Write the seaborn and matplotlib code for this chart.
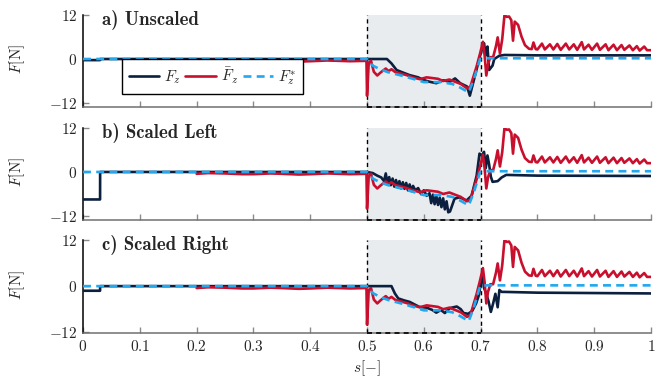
import matplotlib
matplotlib.use('Agg')
import matplotlib.pyplot as plt
import seaborn as sns

# ---- data ----
panel_titles = ['a) Unscaled', 'b) Scaled Left', 'c) Scaled Right']
legend_labels = [r'$F_z$', r'$\bar{F}_z$', r'$F_z^{*}$']
window = [0.5, 0.7]
x_ticks = [0, 0.1, 0.2, 0.3, 0.4, 0.5, 0.6, 0.7, 0.8, 0.9, 1]
x_tick_labels = ['$0$', '$0.1$', '$0.2$', '$0.3$', '$0.4$', '$0.5$', '$0.6$', '$0.7$', '$0.8$', '$0.9$', '$1$']
y_ticks = [-12, 0, 12]
y_tick_labels = ['$-12$', '$0$', '$12$']
y_limits = [(-13.1, 12), (-13.1, 12), (-12.2, 12)]

# reference force F_z^* (same in all panels)
ref_s = [0, 0.5, 0.51, 0.523, 0.537, 0.56, 0.583, 0.6, 0.63, 0.65, 0.664, 0.679,
         0.688, 0.699, 0.71, 0.72, 1.0]
ref_f = [0, 0, -1.8, -2.8, -3.6, -4.5, -5.5, -6.3, -6.3, -6.8, -7.8, -9.1,
         -5.6, 0, 0.2, 0.2, 0.2]

# mean force \bar F_z (same in all panels, starts at s = 0.2)
mean_s = [0.2, 0.22, 0.25, 0.28, 0.3, 0.33, 0.35, 0.38, 0.4, 0.43, 0.45, 0.47,
          0.499, 0.5, 0.503, 0.507, 0.512, 0.518,
          0.523, 0.527, 0.533, 0.538, 0.543, 0.55, 0.56, 0.57, 0.58, 0.593, 0.605,
          0.615, 0.625, 0.634, 0.645, 0.655, 0.665, 0.676, 0.682, 0.688, 0.693,
          0.699, 0.704, 0.707, 0.710, 0.713, 0.717, 0.722, 0.727, 0.730, 0.734,
          0.738, 0.742, 0.746, 0.750, 0.754, 0.757, 0.760, 0.766, 0.772, 0.778,
          0.785, 0.790, 0.793, 0.797, 0.800, 0.808, 0.813, 0.822, 0.828, 0.835,
          0.841, 0.850, 0.856, 0.864, 0.870, 0.878, 0.882, 0.890, 0.896, 0.905,
          0.910, 0.920, 0.925, 0.934, 0.940, 0.948, 0.953, 0.962, 0.968, 0.975,
          0.980, 0.988, 0.993, 1.0]
mean_f = [-0.5, -0.3, -0.4, -0.6, -0.6, -0.4, -0.5, -0.7, -0.6, -0.4, -0.5, -0.6,
          -0.5, -10, -1, -0.5, -3.5, -4.5,
          -3.8, -3.3, -2.6, -3.3, -2.8, -3.6, -4.0, -4.4, -5.0, -5.5, -5.0,
          -5.2, -5.4, -6.0, -5.6, -6.2, -6.8, -8.0, -7.5, -4.5, -2.0,
          1.5, 4.7, 1.0, -4.5, -1.5, 0.5, 0.5, 3.5, 5.9, 1.5,
          5.4, 12.0, 11.5, 11.6, 10.6, 5.0, 10.2, 9.3, 6.1, 3.8,
          2.8, 2.7, 4.5, 2.7, 2.6, 4.2, 2.6, 4.0, 2.6, 4.1,
          2.5, 4.2, 2.6, 4.0, 2.5, 4.6, 2.6, 3.9, 2.5, 4.2,
          2.5, 4.0, 2.4, 3.9, 2.4, 3.8, 2.5, 3.7, 2.4, 3.5,
          2.3, 3.4, 2.4, 2.4]

# measured force F_z, one per panel
fz_a_s = [0, 0.03, 0.0301, 0.5, 0.535, 0.543, 0.552, 0.56, 0.575, 0.59, 0.599,
          0.61, 0.622, 0.634, 0.646, 0.655, 0.664, 0.676, 0.681, 0.688, 0.697,
          0.703, 0.706, 0.709, 0.712, 0.715, 0.721, 0.724, 0.733, 0.742, 0.8, 1.0]
fz_a = [-0.3, -0.3, 0, 0, 0, -1.2, -3.0, -3.5, -4.4, -5.0, -5.7,
        -6.2, -6.6, -5.8, -6.2, -5.3, -6.6, -7.5, -10.0, -5.8, -0.3,
        3.0, 4.3, 1.0, 3.4, -3.0, -1.8, 0, 0.9, 1.1, 1.0, 1.0]

fz_b_s = [0, 0.03, 0.0301, 0.5, 0.51, 0.518, 0.525, 0.530, 0.533, 0.536, 0.539,
          0.542, 0.545, 0.548, 0.551, 0.554, 0.557, 0.56, 0.563, 0.566, 0.569,
          0.572, 0.575, 0.578, 0.581, 0.585, 0.59, 0.595, 0.6, 0.605, 0.61,
          0.613, 0.616, 0.619, 0.622, 0.625, 0.628, 0.631, 0.634, 0.637, 0.640,
          0.643, 0.646, 0.649, 0.654, 0.663, 0.67, 0.675, 0.684, 0.693, 0.698,
          0.702, 0.706, 0.709, 0.712, 0.715, 0.718, 0.721, 0.73, 0.737, 0.745,
          0.8, 1.0]
fz_b = [-7.5, -7.5, 0, 0, -0.3, -1.0, -1.5, -2.5, -0.4, -3.2, -1.4,
        -3.6, -1.8, -4.0, -2.2, -4.2, -2.5, -4.5, -2.8, -4.6, -3.0,
        -5.0, -3.4, -5.2, -3.8, -5.0, -4.4, -6.0, -5.0, -6.5, -5.8,
        -8.5, -6.2, -8.8, -6.6, -9.0, -7.0, -9.6, -7.2, -10.2, -8.0,
        -11.0, -10.8, -9.5, -7.3, -6.9, -7.4, -7.8, -6.5, -1.0, 5.0,
        4.5, 5.5, 1.0, 4.5, 2.0, -1.3, -2.7, -2.5, -1.5, -0.8,
        -1.0, -1.1]

fz_c_s = [0, 0.03, 0.0301, 0.5, 0.543, 0.549, 0.555, 0.565, 0.575, 0.592, 0.605,
          0.615, 0.622, 0.63, 0.637, 0.646, 0.658, 0.665, 0.67, 0.678, 0.685,
          0.692, 0.697, 0.703, 0.706, 0.71, 0.714, 0.718, 0.722, 0.726, 0.73,
          0.733, 0.737, 0.742, 0.8, 1.0]
fz_c = [-1.2, -1.2, 0, 0, 0, -1.9, -3.2, -3.7, -4.1, -5.4, -5.6,
        -6.2, -6.9, -6.2, -7.0, -5.7, -5.3, -6.0, -7.0, -7.2, -6.5,
        -4.5, -2.3, 3.3, -0.5, -2.0, -4.0, -6.7, -4.5, -2.0, -5.5,
        -1.0, -1.5, -1.5, -1.7, -1.9]

fz_panels = [(fz_a_s, fz_a), (fz_b_s, fz_b), (fz_c_s, fz_c)]

# ---- style ----
sns.set_theme(style='white')
plt.rcParams['mathtext.fontset'] = 'cm'
plt.rcParams['font.family'] = ['cmr10', 'DejaVu Serif']
plt.rcParams['axes.unicode_minus'] = False

c_fz = '#0b1f3f'
c_mean = '#c8102e'
c_ref = '#21a8ee'
c_shade = '#e9ecef'

fig = plt.figure(figsize=(6.68, 3.85), dpi=100)
boxes = [(0.1243, 0.722, 0.8503, 0.239),
         (0.1243, 0.4286, 0.8503, 0.239),
         (0.1243, 0.135, 0.8503, 0.2416)]

for i, (title, (fs, fv)) in enumerate(zip(panel_titles, fz_panels)):
    ax = fig.add_axes(boxes[i])
    lo, hi = y_limits[i]

    # grey window with dashed border
    ax.axvspan(window[0], window[1], color=c_shade, lw=0, zorder=0)
    for w in window:
        ax.vlines(w, lo, hi, colors='black', linestyles=(0, (3, 2.5)), lw=1, zorder=1)
    ax.hlines(lo, window[0], window[1], colors='black', linestyles=(0, (3, 2.5)),
              lw=1.2, zorder=6, clip_on=False)

    sns.lineplot(x=fs, y=fv, ax=ax, color=c_fz, lw=1.9, estimator=None,
                 sort=False, label=legend_labels[0], zorder=3)
    sns.lineplot(x=mean_s, y=mean_f, ax=ax, color=c_mean, lw=1.9, estimator=None,
                 sort=False, label=legend_labels[1], zorder=4)
    sns.lineplot(x=ref_s, y=ref_f, ax=ax, color=c_ref, lw=1.9, estimator=None,
                 sort=False, linestyle=(0, (3, 2)), label=legend_labels[2], zorder=5)

    ax.set_xlim(0, 1)
    ax.set_ylim(lo, hi)
    ax.set_yticks(y_ticks)
    ax.set_yticklabels(y_tick_labels, fontsize=11)
    ax.set_xticks(x_ticks)
    if i == 2:
        ax.set_xticklabels(x_tick_labels, fontsize=11)
        ax.set_xlabel(r'$s[-]$', fontsize=11)
        ax.xaxis.set_label_coords(0.5, -0.27)
    else:
        ax.set_xticklabels([])
        ax.set_xlabel('')
    ax.set_ylabel(r'$F[\mathrm{N}]$', fontsize=11)
    ax.yaxis.set_label_coords(-0.098, 0.52)

    ax.tick_params(axis='both', direction='in', length=4.5, width=1,
                   color='#8a8a8a', pad=4, left=True, bottom=True)
    ax.spines['top'].set_visible(False)
    ax.spines['right'].set_visible(False)
    ax.spines['left'].set_color('black')
    ax.spines['left'].set_linewidth(1.1)
    ax.spines['bottom'].set_color('#707070')
    ax.spines['bottom'].set_linewidth(1.1)
    ax.patch.set_alpha(0)

    ax.text(0.033, 0.89, title, transform=ax.transAxes, fontsize=13.5,
            family='cmb10', va='baseline', ha='left')

    if i == 0:
        ax.legend(loc='lower left', bbox_to_anchor=(0.0687, 0.141), ncol=3,
                  frameon=True, fancybox=False, edgecolor='black', framealpha=1,
                  borderaxespad=0, fontsize=11, handlelength=2.0,
                  columnspacing=0.3, handletextpad=0.3, borderpad=0.45)
        ax.get_legend().get_frame().set_linewidth(1.0)
    else:
        ax.get_legend().remove()

fig.savefig('out.png', dpi=100)
